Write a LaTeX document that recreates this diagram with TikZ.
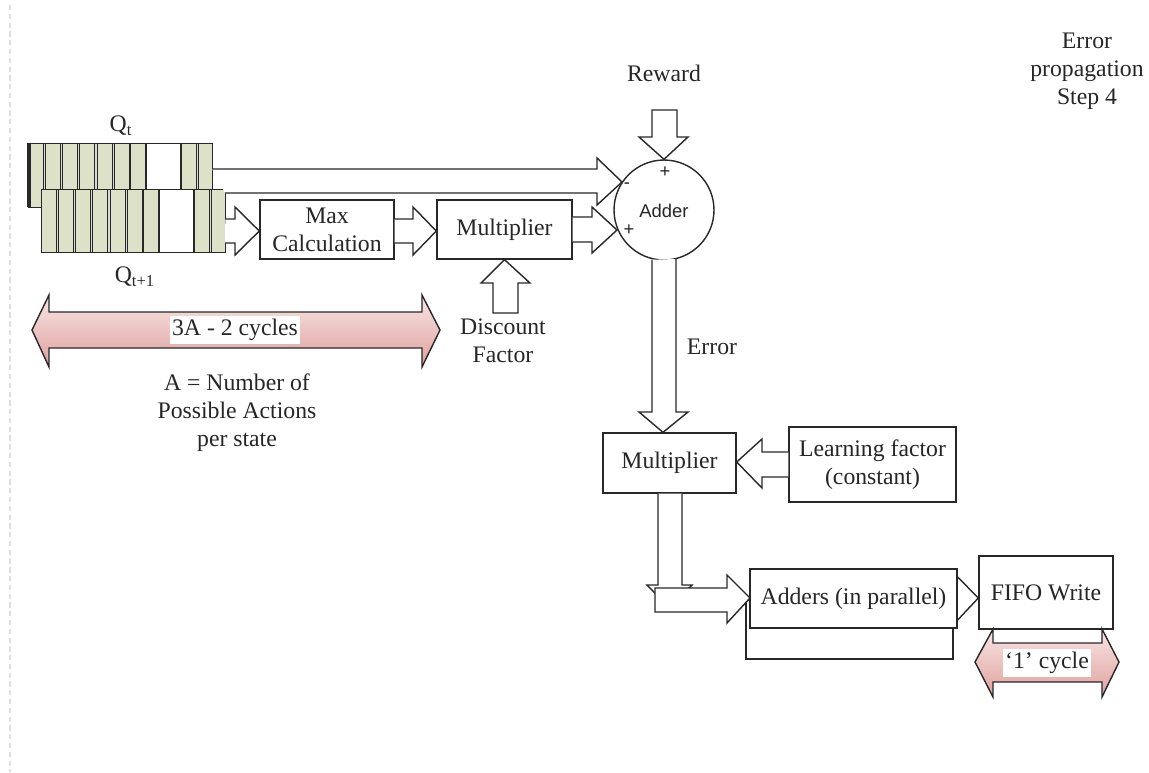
\documentclass[tikz,border=0pt]{standalone}
\usepackage{fontspec}
\setmainfont{Liberation Serif}
\newfontfamily\arialf{Liberation Sans}
\definecolor{cellgreen}{RGB}{221,225,200}
\definecolor{ln}{RGB}{40,40,40}
\definecolor{pinkA}{RGB}{248,230,228}
\definecolor{pinkB}{RGB}{222,160,157}
\newcommand\qreg[3]{%
  \draw[draw=ln, line width=0.5pt, fill=gray!30] (#1,#2) rectangle (#1+184,#3);
  \foreach \s in {0,17,34,51,69,86,102} {\draw[cell] (#1+\s,#2) rectangle (#1+\s+15.5,#3);}
  \draw[wcell] (#1+118,#2) rectangle (#1+152,#3);
  \draw[cell] (#1+153.5,#2) rectangle (#1+168,#3);
  \draw[cell] (#1+170,#2) rectangle (#1+184,#3);
}
\begin{document}
\begin{tikzpicture}[x=0.02cm,y=-0.02cm,
  every node/.style={font=\fontsize{13.5}{15.9}\selectfont, inner sep=0pt, text=black!85},
  box/.style={draw=ln, line width=0.8pt, fill=white, inner sep=0pt, align=center},
  blk/.style={draw=ln, line width=0.8pt, fill=white, line join=miter},
  cell/.style={draw=ln, line width=0.45pt, fill=cellgreen},
  wcell/.style={draw=ln, line width=0.45pt, fill=white},
  spanarrow/.style={draw=ln, line width=0.8pt, top color=pinkA, bottom color=pinkB},
  lbl/.style={align=center},
  sgn/.style={font=\arialf\fontsize{10.5}{12}\selectfont}]
\useasboundingbox (0,0) rectangle (1149,772);
% left dashed guide
\draw[gray!25, line width=0.8pt, dash pattern=on 3pt off 2pt] (10,5) -- (10,772);

% registers
\qreg{28}{143}{207}
\draw[ln, line width=1.8pt] (29,143) -- (29,207);
\qreg{41}{189}{252}
\coordinate (qtR) at (212,169);
\coordinate (qt1R) at (225,193);
\node (qtl) at (121,126) {Q\textsubscript{t}};
\node (qt1l) at (135,277) {Q\textsubscript{t+1}};

% boxes
\node[box, minimum width=2.68cm, minimum height=1.18cm] (max) at (327,229.5) {Max\\Calculation};
\node[box, minimum width=2.70cm, minimum height=1.18cm] (mul1) at (504.5,229.5) {Multiplier};
\node[draw=ln, line width=0.8pt, circle, minimum size=2cm, fill=white] (adder) at (664,210) {};
\node[sgn] (addt) at (664,211) {Adder};

% block arrows
\draw[blk] (qtR) -- (597,169) -- (597,158) -- (622,182) -- (597,205) -- (597,193) -- (qt1R);
\draw[blk] (max.west |- 0,219) ++(-34,0) -- (235,219) -- (235,207) -- (max.west |- 0,231) -- (235,255) -- (235,243) -- (225,243);
\draw[blk] (max.east |- 0,219) -- (413,219) -- (413,207) -- (mul1.west |- 0,231) -- (413,255) -- (413,243) -- (max.east |- 0,243);
\draw[blk] (mul1.east |- 0,217) -- (592,217) -- (592,207) -- (617,230) -- (592,253) -- (592,242) -- (mul1.east |- 0,242);
\draw[blk] (652,110) -- (677,110) -- (677,137) -- (688,137) -- (adder.north) -- (639,137) -- (652,137) -- cycle;
\draw[blk] (493,313) -- (493,283) -- (481,283) -- (mul1.south) -- (530,283) -- (518,283) -- (518,313) -- cycle;

\node[sgn] (pl1) at (665,172) {+};
\node[sgn] (mi1) at (627,186) {-};
\node[sgn] (pl2) at (629,230) {+};
\node (rew) at (664,73) {Reward};
\node[lbl] (disc) at (503,341) {Discount\\Factor};
\node (err) at (712,347) {Error};
\node[lbl] (title) at (1087,71) {Error\\propagation\\Step 4};

% 3A - 2 cycles
\draw[spanarrow] (32,330) -- (49,295) -- (49,312) -- (422,312) -- (422,295) -- (440,330) -- (422,367) -- (422,348) -- (49,348) -- (49,367) -- cycle;
\node[fill=white, inner xsep=1pt, inner ysep=2pt] (cyc) at (235,330) {3A - 2 cycles};
\node[lbl] (anote) at (237,413) {A = Number of\\Possible Actions\\per state};

% lower part
\node[box, minimum width=2.66cm, minimum height=1.2cm] (mul2) at (669.5,463) {Multiplier};
\node[box, minimum width=3.34cm, minimum height=1.5cm] (lrn) at (872.5,464.5) {Learning factor\\(constant)};
\draw[blk] (adder.south -| 652,0) ++(0,-1) -- (652,412) -- (639,412) -- (mul2.north -| 663,0) -- (688,412) -- (676,412) -- (676,259);
\draw[blk] (lrn.west |- 0,452) -- (762,452) -- (762,439) -- (mul2.east |- 0,462) -- (762,488) -- (762,477) -- (lrn.west |- 0,477);
\draw[blk] (mul2.south -| 658,0) -- (658,585) -- (647,585) -- (670,608) -- (692,585) -- (682,585) -- (mul2.south -| 682,0);
\node[box, minimum width=4.14cm, minimum height=1.18cm] (addb) at (849.5,629.5) {};
\draw[blk] (655,588) -- (727,588) -- (727,575) -- (750,598) -- (727,623) -- (727,612) -- (655,612) -- cycle;
\node[box, minimum width=4.14cm, minimum height=1.18cm] (adds) at (853.5,598.5) {Adders (in parallel)};
\node[box, minimum width=2.68cm, minimum height=1.46cm] (fifo) at (1046,592.5) {FIFO Write};
\draw[ln, line width=0.8pt] (adds.east |- 0,577) -- (fifo.west |- 0,598) -- (adds.east |- 0,620);
\draw[spanarrow] (975,662) -- (993,629) -- (993,643) -- (1102,643) -- (1102,629) -- (1119,662) -- (1102,697) -- (1102,682) -- (993,682) -- (993,697) -- cycle;
\node[fill=white, inner xsep=1pt, inner ysep=2pt] (one) at (1047,663) {‘1’ cycle};
\end{tikzpicture}
\end{document}
